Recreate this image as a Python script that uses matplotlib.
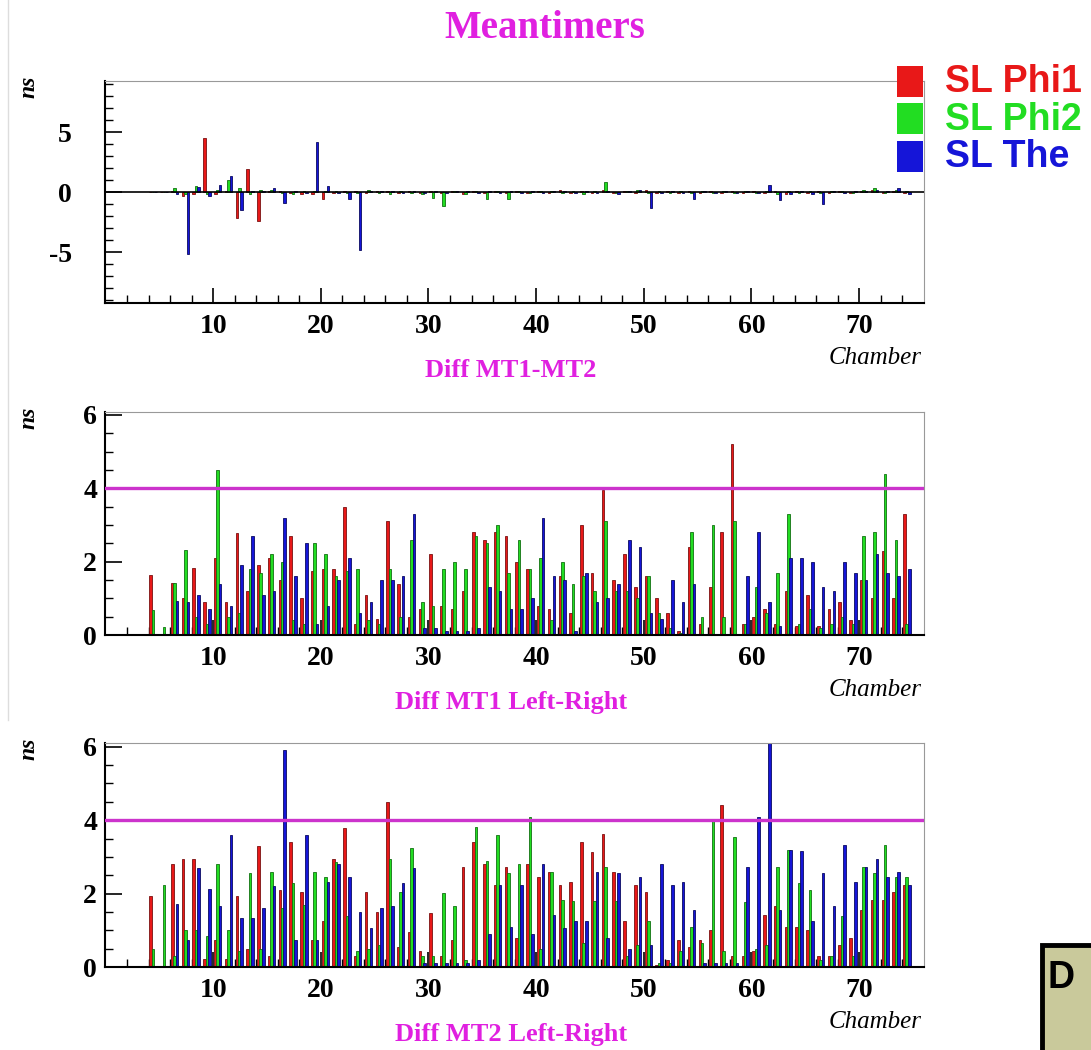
import numpy as np
import matplotlib.pyplot as plt
from matplotlib.patches import Rectangle
from matplotlib.lines import Line2D

plt.rcParams['axes.unicode_minus'] = False

# chamber numbers
chambers = list(range(4, 75))

# Diff MT1-MT2 (ns)
mt12_phi1 = [0, 0, 0.1, -0.3, -0.2, 4.5, -0.2, 0.1, -2.2, 1.9, -2.4, 0.1, 0.1, -0.1, -0.2, -0.2, -0.6, -0.1,
             0.1, 0.1, -0.1, 0.1, 0.1, -0.1, 0.1, -0.1, 0.1, -0.1, 0.1, -0.2, 0.1, -0.1, 0.1, -0.1, 0.1, -0.1,
             0.1, -0.1, 0.2, -0.1, 0.1, -0.1, 0.2, -0.1, 0.1, -0.1, 0.2, -0.1, 0.1, -0.1, 0.1, -0.1, 0.1, -0.1,
             0.1, -0.1, 0.1, -0.1, 0.1, -0.2, 0.1, -0.1, 0.1, -0.1, 0.1, -0.1, 0.1, 0.2, -0.1, 0.1, -0.1]
mt12_phi2 = [0, 0, 0.3, -0.2, 0.5, -0.2, 0.2, 1.0, 0.3, -0.2, 0.2, 0.2, -0.1, -0.2, 0.1, 0.1, 0.1, 0.1,
             -0.1, -0.1, 0.2, -0.1, -0.2, 0.1, -0.1, -0.2, -0.5, -1.2, 0.1, -0.2, 0.1, -0.6, 0.1, -0.6, 0.1, -0.1,
             0.1, 0.1, -0.1, 0.1, -0.2, 0.1, 0.8, -0.1, 0.1, 0.2, -0.1, 0.1, -0.1, 0.1, -0.1, 0.1, -0.1, 0.1,
             -0.1, 0.1, -0.1, 0.1, -0.2, 0.1, -0.1, 0.1, -0.1, 0.1, 0.1, -0.1, 0.2, 0.3, -0.1, 0.2, 0.1]
mt12_the = [0, 0, -0.2, -5.2, 0.4, -0.3, 0.6, 1.3, -1.5, 0.1, 0.1, 0.3, -0.9, 0.1, -0.1, 4.2, 0.5, -0.1,
            -0.6, -4.8, 0.1, 0.1, 0.1, -0.1, 0.1, -0.1, 0.1, -0.1, 0.1, 0.1, -0.1, 0.1, -0.1, 0.1, -0.1, 0.1,
            -0.1, 0.1, 0.1, -0.1, 0.1, -0.1, 0.1, -0.2, 0.1, 0.2, -1.3, -0.1, 0.1, -0.1, -0.6, 0.1, -0.1, 0.1,
            -0.1, 0.1, -0.1, 0.6, -0.7, -0.2, 0.1, -0.2, -1.0, 0.1, -0.1, 0.1, 0.1, 0.2, 0.1, 0.3, -0.2]

# Diff MT1 Left-Right (ns)
mt1_phi1 = [1.63, 0, 1.43, 1.0, 1.82, 0.9, 2.09, 0.9, 2.79, 1.2, 1.9, 2.1, 1.5, 2.7, 1.0, 1.75, 1.8, 1.8,
            3.5, 0.3, 1.1, 0.45, 3.1, 1.4, 0.5, 0.7, 2.2, 0.8, 0.7, 1.2, 2.8, 2.6, 2.8, 2.7, 2.0, 1.8,
            0.8, 0.7, 1.6, 0.6, 3.0, 1.7, 3.95, 1.5, 2.2, 1.3, 1.6, 1.0, 0.6, 0.1, 2.4, 0.3, 1.3, 2.8,
            5.2, 0.3, 0.5, 0.7, 0.3, 1.2, 0.25, 1.1, 0.25, 0.7, 0.9, 0.4, 1.5, 1.0, 2.3, 1.0, 3.3]
mt1_phi2 = [0.68, 0.23, 1.43, 2.32, 0.5, 0.3, 4.5, 0.5, 0.6, 1.8, 1.7, 2.2, 2.0, 0.4, 0.3, 2.5, 2.2, 1.6,
            1.75, 1.8, 0.4, 0.3, 1.8, 0.5, 2.6, 0.9, 0.8, 1.8, 2.0, 1.8, 2.7, 2.5, 3.0, 1.7, 2.6, 1.8,
            2.1, 0.4, 2.0, 1.4, 1.6, 1.2, 3.1, 1.2, 1.2, 1.0, 1.6, 0.6, 0.2, 0.05, 2.8, 0.5, 3.0, 0.5,
            3.1, 0.3, 1.3, 0.6, 1.7, 3.3, 0.3, 0.7, 0.2, 0.3, 0.5, 0.3, 2.7, 2.8, 4.4, 2.6, 0.3]
mt1_the = [0, 0, 0.93, 0.9, 1.1, 0.7, 1.4, 0.8, 1.9, 2.7, 1.1, 1.2, 3.2, 1.6, 2.5, 0.3, 0.8, 1.5,
           2.1, 0.6, 0.9, 1.5, 1.5, 1.6, 3.3, 0.2, 0.2, 0.1, 0.1, 0.1, 0.2, 1.3, 1.2, 0.7, 0.7, 1.0,
           3.2, 1.6, 1.5, 0.1, 1.7, 0.9, 1.0, 1.4, 2.6, 2.4, 0.6, 0.45, 1.5, 0.9, 1.4, 0.0, 0.0, 0.0,
           0.0, 1.6, 2.8, 0.9, 0.25, 2.1, 2.1, 2.0, 1.3, 1.2, 2.0, 1.7, 1.5, 2.2, 1.7, 1.6, 1.8]

# Diff MT2 Left-Right (ns)
mt2_phi1 = [1.94, 0, 2.8, 2.93, 2.93, 0.23, 0.75, 0.23, 1.93, 0.5, 3.3, 0.3, 2.1, 3.4, 2.05, 0.75, 1.25, 2.95,
            3.8, 0.3, 2.05, 1.5, 4.5, 0.55, 0.95, 0.45, 1.46, 0.3, 0.75, 2.72, 3.41, 2.82, 2.23, 2.72, 0.8, 2.82,
            2.45, 2.6, 2.23, 2.33, 3.41, 3.14, 3.62, 2.6, 1.25, 2.23, 2.05, 0.05, 0.2, 0.75, 0.55, 0.75, 1.0, 4.41,
            0.3, 0.3, 0.45, 1.42, 1.65, 1.1, 1.1, 1.0, 0.3, 0.3, 0.6, 0.8, 1.55, 1.82, 1.82, 2.05, 2.23]
mt2_phi2 = [0.5, 2.23, 0.3, 1.0, 1.0, 0.85, 2.8, 1.0, 0.43, 2.55, 0.5, 2.6, 1.6, 2.3, 1.7, 2.6, 2.45, 2.85,
            1.4, 0.45, 0.5, 0.6, 2.93, 2.05, 3.25, 0.3, 0.3, 2.03, 1.65, 0.2, 3.82, 2.9, 3.6, 2.55, 2.82, 4.08,
            0.5, 2.6, 1.82, 1.8, 0.65, 1.8, 2.72, 1.8, 0.3, 0.6, 1.25, 0.1, 0.1, 0.45, 1.1, 0.65, 4.0, 0.45,
            3.53, 1.78, 0.5, 0.6, 2.73, 3.2, 2.3, 2.1, 0.2, 0.3, 1.4, 0.3, 2.73, 2.55, 3.32, 2.45, 2.45]
mt2_the = [0, 0, 1.73, 0.75, 2.71, 2.12, 1.65, 3.6, 1.33, 1.33, 1.6, 2.2, 5.9, 0.75, 3.6, 0.75, 2.33, 2.8,
           2.45, 1.5, 1.05, 1.6, 1.65, 2.3, 2.7, 0.1, 0.1, 0.1, 0.1, 0.1, 0.2, 0.9, 2.23, 1.1, 2.23, 0.9,
           2.82, 1.43, 1.05, 1.25, 1.25, 2.6, 0.8, 2.55, 0.5, 2.45, 0.6, 2.82, 2.23, 2.33, 1.55, 0.1, 0.1, 0.1,
           0.1, 2.72, 4.1, 6.1, 1.55, 3.2, 3.15, 1.25, 2.55, 1.65, 3.32, 2.33, 2.73, 2.93, 2.45, 2.6, 2.23]

sl_names = ['SL Phi1', 'SL Phi2', 'SL The']
sl_colors = ['#e81818', '#22dd22', '#1515d8']
sl_edges = ['#7a1010', '#117011', '#0a0a60']
offsets = [0.2, 0.42, 0.65]

magenta = '#e020e0'
serif = 'Liberation Serif'

fig = plt.figure(figsize=(10.91, 10.50), dpi=100)

panels = [
    ([mt12_phi1, mt12_phi2, mt12_the], 'Diff MT1-MT2', [0.0967, 0.7114, 0.750, 0.2114], (-9.25, 9.25), 24),
    ([mt1_phi1, mt1_phi2, mt1_the], 'Diff MT1 Left-Right', [0.0967, 0.3952, 0.750, 0.2124], (0, 6.08), 6),
    ([mt2_phi1, mt2_phi2, mt2_the], 'Diff MT2 Left-Right', [0.0967, 0.0790, 0.750, 0.2133], (0, 6.1), 6),
]

x = np.array(chambers, dtype=float)
for i, (series, title, rect, ylim, ypad) in enumerate(panels):
    ax = fig.add_axes(rect)
    for vals, off, col, ec in zip(series, offsets, sl_colors, sl_edges):
        ax.bar(x + off, vals, width=0.24, color=col, edgecolor=ec, linewidth=0.6, zorder=2)
    ax.set_xlim(0, 76)
    ax.set_ylim(*ylim)
    if i == 0:
        ax.axhline(0, color='black', lw=1.2, zorder=3)
        ax.set_yticks([-5, 0, 5])
        ax.set_yticks(np.arange(-9, 10, 1), minor=True)
    else:
        ax.axhline(4, color='#cc33cc', lw=2.4, zorder=4)
        ax.set_yticks([0, 2, 4, 6])
        ax.set_yticks(np.arange(0, 6.01, 0.5), minor=True)
    ax.set_xticks(np.arange(10, 71, 10))
    ax.set_xticks(np.arange(2, 76, 2), minor=True)
    ax.tick_params(axis='x', which='major', direction='in', length=11, width=1.2, pad=8)
    ax.tick_params(axis='x', which='minor', direction='in', length=5.5, width=1.0)
    ax.tick_params(axis='y', which='major', direction='in', length=12, width=1.2, pad=ypad)
    ax.tick_params(axis='y', which='minor', direction='in', length=5.5, width=1.0)
    for lab in ax.get_xticklabels() + ax.get_yticklabels():
        lab.set_fontfamily(serif)
        lab.set_fontweight('bold')
        lab.set_fontsize(20)
    for s in ['left', 'bottom']:
        ax.spines[s].set_linewidth(1.5)
        ax.spines[s].set_color('black')
    for s in ['top', 'right']:
        ax.spines[s].set_linewidth(0.8)
        ax.spines[s].set_color('#999999')

    # "ns" unit at top of y axis
    fig.text(0.027, rect[1] + rect[3] + 0.005, 'ns', rotation=90, ha='center', va='top',
             fontfamily=serif, fontstyle='italic', fontweight='bold', fontsize=17)
    # x axis name
    fig.text(0.845, rect[1] - 0.052, 'Chamber', ha='right', va='center',
             fontfamily=serif, fontstyle='italic', fontsize=18)
    # panel title
    fig.text(0.468, rect[1] - 0.064, title, ha='center', va='center', color=magenta,
             fontfamily=serif, fontweight='bold', fontsize=19)

fig.text(0.499, 0.973, 'Meantimers', ha='center', va='center', color=magenta,
         fontfamily=serif, fontweight='bold', fontsize=28)

# legend boxes and labels
for k, (name, col) in enumerate(zip(sl_names, sl_colors)):
    y0 = 1 - (97 + k * 37.5) / 1050
    fig.patches.append(Rectangle((897 / 1091, y0), 26 / 1091, 31 / 1050, transform=fig.transFigure,
                                 facecolor=col, edgecolor='none'))
    fig.text(945 / 1091, y0 + 15 / 1050, name, ha='left', va='center', color=col,
             fontfamily='Liberation Sans', fontweight='bold', fontsize=27)

# faint page border on the left
fig.lines.append(Line2D([8 / 1091, 8 / 1091], [1, 1 - 720 / 1050], transform=fig.transFigure,
                        color='#dddddd', lw=1))

# partial box at bottom right
fig.patches.append(Rectangle((1042 / 1091, -0.02), 0.1, (1050 - 945) / 1050 + 0.02,
                             transform=fig.transFigure, facecolor='#c9c99b', edgecolor='black', lw=3.5))
fig.text(1047 / 1091, 1 - 978 / 1050, 'D', ha='left', va='center', color='black',
         fontfamily='Liberation Sans', fontweight='bold', fontsize=27)

fig.savefig('out.png', dpi=100)
